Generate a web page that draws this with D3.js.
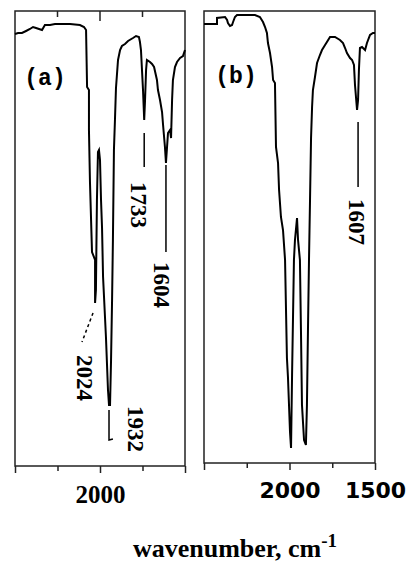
<!DOCTYPE html>
<html>
<head>
<meta charset="utf-8">
<script src="https://cdn.jsdelivr.net/npm/d3@7"></script>
<style>
  body { margin: 0; background: #fff; }
</style>
</head>
<body>
<div id="svg-container"></div>
<script>
// Size of the page
const width = 415;
const height = 562;

// Tick values, cm-1
const majorTicks = [2500, 2000, 1500];
const minorTicks = [2250, 1750];
const tickLabelsA = [2000];
const tickLabelsB = [2000, 1500];

// Spectrum (a): wavenumber (cm-1) and transmittance (arb.)
const waveA = [2500, 2482, 2459, 2435, 2412, 2394, 2376, 2359, 2341, 2324, 2294, 2265, 2176, 2118, 2094, 2082,
  2076, 2065, 2065, 2059, 2047, 2029, 2029, 2024, 2018, 2012, 2006, 2000, 1994, 1988, 1982, 1965, 1953, 1947,
  1941, 1935, 1929, 1924, 1918, 1912, 1906, 1894, 1882, 1871, 1853, 1835, 1806, 1788, 1771, 1765, 1759, 1753,
  1747, 1740, 1735, 1729, 1724, 1706, 1694, 1682, 1665, 1659, 1647, 1635, 1629, 1624, 1618, 1612, 1606, 1600,
  1588, 1582, 1576, 1571, 1559, 1547, 1529, 1512, 1500];
const transA = [86.4, 86.6, 86.6, 87, 87.4, 87.8, 87.6, 87.4, 87.2, 88.2, 88.2, 88.4, 88.4, 88.2, 87.8, 87.2,
  75.8, 75.2, 67.2, 56.8, 42.8, 41.2, 32.6, 35.2, 53.2, 62.8, 63.2, 61.2, 53.2, 47.6, 37.8, 25.8, 15.2, 12.2,
  12.2, 21.2, 33.2, 45.2, 63.2, 69.2, 75.6, 81.2, 83.2, 84, 84.4, 85, 85.6, 86, 85.8, 84.8, 83.2, 79.2,
  75.2, 69.2, 73.2, 79.2, 81.2, 80.8, 80.4, 79.8, 77.2, 75.2, 73.2, 70.8, 68.2, 66.2, 63.8, 60.6, 63.6, 66.6,
  67.2, 65.6, 73.2, 77.2, 79.8, 80.8, 81.6, 82, 83.2];

// Spectrum (b)
const waveB = [2500, 2424, 2424, 2377, 2365, 2360, 2348, 2336, 2330, 2319, 2307, 2202, 2173, 2155, 2143, 2132,
  2126, 2114, 2102, 2096, 2085, 2079, 2067, 2061, 2050, 2038, 2026, 2015, 2009, 1997, 1991, 1985, 1974, 1968,
  1956, 1950, 1939, 1933, 1927, 1915, 1904, 1898, 1892, 1886, 1880, 1874, 1868, 1863, 1851, 1839, 1822, 1810,
  1792, 1763, 1734, 1705, 1687, 1675, 1664, 1646, 1634, 1623, 1617, 1605, 1599, 1594, 1588, 1576, 1558, 1547,
  1529, 1512, 1500];
const transB = [87.8, 87.8, 89, 89.2, 88.6, 88, 87.4, 87.6, 88.2, 89.2, 89.6, 89.6, 89.2, 88.2, 87.2, 86,
  84, 82, 79.2, 76.6, 76, 63.2, 60, 54.6, 49.2, 46.6, 40.6, 21, 17.2, 6.2, 3, 17.6, 40.6, 44.6,
  49, 44.6, 40.6, 26.6, 11.6, 4.6, 3.6, 11.6, 26.6, 40.6, 52.6, 65, 71.2, 74.6, 77.2, 80, 81.6, 82.6,
  83.6, 85.2, 85.2, 84.6, 84, 83, 82, 81, 80.6, 79.6, 75.6, 70.6, 72.6, 78.6, 83, 83.2, 82.6, 84,
  85.6, 86, 86];

// Peak labels
const peakNamesA = ["2024", "1932", "1733", "1604"];
const peakNamesB = ["1607"];

const svg = d3.select("#svg-container")
  .append("svg")
    .attr("width", width)
    .attr("height", height)
    .style("font-family", "'Liberation Serif', serif");

const panels = [
  { name: "(a)", left: 15, right: 185, top: 11, bottom: 466, tmax: 91, wave: waveA, trans: transA,
    labels: tickLabelsA, topTicks: true, tickFont: "'Liberation Serif', serif", tickSize: 25,
    nameX: 45, nameY: 85 },
  { name: "(b)", left: 204, right: 375, top: 11, bottom: 463, tmax: 90.4, wave: waveB, trans: transB,
    labels: tickLabelsB, topTicks: false, tickFont: "'DejaVu Sans', sans-serif", tickSize: 22,
    nameX: 236, nameY: 83 }
];

panels.forEach(p => {
  p.x = d3.scaleLinear().domain([2500, 1500]).range([p.left, p.right]);
  p.y = d3.scaleLinear().domain([0, p.tmax]).range([p.bottom, p.top]);

  const g = svg.append("g");

  // frame
  g.append("rect")
    .attr("x", p.left).attr("y", p.top)
    .attr("width", p.right - p.left).attr("height", p.bottom - p.top)
    .attr("fill", "none").attr("stroke", "#222").attr("stroke-width", 1.5);

  // bottom axis, major and minor ticks
  const major = g.append("g")
    .attr("transform", `translate(0, ${p.bottom})`)
    .call(d3.axisBottom(p.x).tickValues(majorTicks).tickSize(7).tickPadding(12)
      .tickFormat(d => p.labels.includes(d) ? d : ""));
  major.select(".domain").remove();
  major.selectAll("line").attr("stroke", "#222").attr("stroke-width", 1.5);
  major.selectAll("text")
    .attr("fill", "#000")
    .style("font-family", p.tickFont)
    .style("font-weight", "bold")
    .style("font-size", p.tickSize + "px");

  const minor = g.append("g")
    .attr("transform", `translate(0, ${p.bottom})`)
    .call(d3.axisBottom(p.x).tickValues(minorTicks).tickSize(5).tickFormat(""));
  minor.select(".domain").remove();
  minor.selectAll("line").attr("stroke", "#222").attr("stroke-width", 1.5);

  // inward ticks on top of panel (a)
  if (p.topTicks) {
    g.selectAll(".topTick")
      .data([2250, 2000, 1750])
      .enter()
      .append("line")
        .attr("x1", d => p.x(d)).attr("x2", d => p.x(d))
        .attr("y1", p.top)
        .attr("y2", d => p.top + (d === 2000 ? 10 : 6))
        .attr("stroke", "#222").attr("stroke-width", 1.5);
  }

  // spectrum
  const line = d3.line()
    .x(d => p.x(d[0]))
    .y(d => p.y(d[1]));

  g.append("path")
    .datum(p.wave.map((w, i) => [w, p.trans[i]]))
    .attr("d", line)
    .attr("fill", "none")
    .attr("stroke", "#000")
    .attr("stroke-width", 2)
    .attr("stroke-linejoin", "miter");

  // panel name
  g.append("text")
    .attr("x", p.nameX).attr("y", p.nameY)
    .attr("text-anchor", "middle")
    .style("font-family", "'Liberation Mono', monospace")
    .style("font-weight", "bold")
    .style("font-size", "23px")
    .text(p.name);
});

// Peak annotations: leader line (in data units) and rotated label
const pa = panels[0], pb = panels[1];
const notes = [
  { p: pa, name: peakNamesA[0], leader: [[2041, 30.6], [2106, 24.8]], dash: "3,3", at: [2088, 17.6] },
  { p: pa, name: peakNamesA[1], leader: [[1947, 11.2], [1947, 5.2], [1924, 5.4]], dash: null, at: [1788, 7.4] },
  { p: pa, name: peakNamesA[2], leader: [[1740, 66.6], [1740, 59.8]], dash: null, at: [1771, 52.2] },
  { p: pa, name: peakNamesA[3], leader: [[1612, 60.2], [1612, 42.8]], dash: null, at: [1635, 36.2] },
  { p: pb, name: peakNamesB[0], leader: [[1599, 68.2], [1599, 55.2]], dash: null, at: [1605, 48.2] }
];

notes.forEach(n => {
  const line = d3.line().x(d => n.p.x(d[0])).y(d => n.p.y(d[1]));
  svg.append("path")
    .attr("d", line(n.leader))
    .attr("fill", "none")
    .attr("stroke", "#000")
    .attr("stroke-width", 1.5)
    .attr("stroke-dasharray", n.dash);

  const tx = n.p.x(n.at[0]), ty = n.p.y(n.at[1]);
  svg.append("text")
    .attr("transform", `translate(${tx}, ${ty}) rotate(90)`)
    .attr("text-anchor", "middle")
    .attr("dy", "0.35em")
    .style("font-weight", "bold")
    .style("font-size", "23px")
    .text(n.name);
});

// x-axis title
const title = svg.append("text")
  .attr("x", 235)
  .attr("y", 557)
  .attr("text-anchor", "middle")
  .style("font-weight", "bold")
  .style("font-size", "26px")
  .text("wavenumber, cm");
title.append("tspan")
  .attr("dy", "-0.55em")
  .style("font-size", "19px")
  .text("-1");
</script>
</body>
</html>
